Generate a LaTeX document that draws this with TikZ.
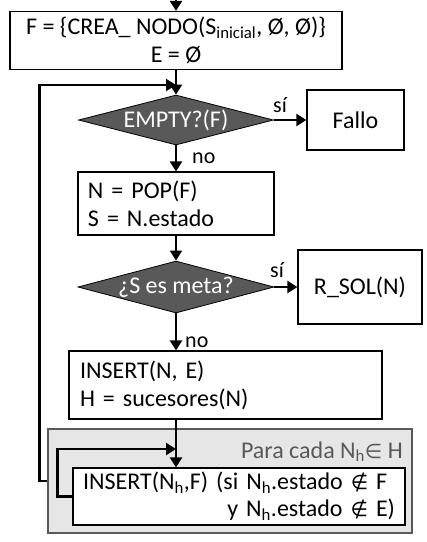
\documentclass[tikz,border=0pt]{standalone}
\usepackage{fontspec}
\setmainfont{Carlito}
\newfontfamily\symf{DejaVu Sans}
\usetikzlibrary{shapes.geometric,arrows.meta}
\definecolor{dgray}{HTML}{595959}
\definecolor{gfill}{HTML}{E6E6E6}
\definecolor{gborder}{HTML}{595959}
\begin{document}
\begin{tikzpicture}[x=1pt,y=-1pt,
  box/.style={draw=black, line width=1.2pt, fill=white, inner sep=0pt, font=\fontsize{24}{28}\selectfont},
  dec/.style={diamond, aspect=3.8, draw=black, line width=0.8pt, fill=dgray, text=white, inner sep=0pt, font=\fontsize{24}{28}\selectfont},
  conn/.style={line width=2.2pt, -{Triangle[length=10pt,width=12pt]}},
  lbl/.style={inner sep=0pt, anchor=base west, font=\fontsize{22}{26}\selectfont}]
\useasboundingbox (0,0) rectangle (427,542);
% nodes
\coordinate (start) at (176,0);
\node[box, minimum width=332pt, minimum height=58pt, align=center, font=\fontsize{24}{28}\selectfont] (init) at (176,40.5)
  {F = \{CREA\_ NODO(S\textsubscript{inicial}, Ø, Ø)\}\\E = Ø};
\node[dec, minimum width=195pt, minimum height=50pt] (d1) at (176,120) {EMPTY?(F)};
\node[box, minimum width=97pt, minimum height=60pt] (fallo) at (355.5,120) {Fallo};
\node[box, minimum width=196pt, minimum height=63pt, text width=176pt, align=left] (pop) at (176,203.5)
  {N = POP(F)\\S = N.estado};
\node[dec, minimum width=196pt, minimum height=52pt] (d2) at (176,287) {¿S es meta?};
\node[box, minimum width=124pt, minimum height=74pt] (rsol) at (360,287) {R\_SOL(N)};
\node[box, minimum width=313pt, minimum height=68pt, text width=291pt, align=left] (ins) at (225.5,385)
  {INSERT(N, E)\\H = sucesores(N)};
\node[draw=gborder, fill=gfill, line width=1.2pt, minimum width=364pt, minimum height=104pt, inner sep=0pt] (loopbox) at (230,481) {};
\node[inner sep=0pt, anchor=base east, text=dgray, font=\fontsize{24}{28}\selectfont] (lbl) at (403,458)
  {Para cada N\textsubscript{h}{\symf\fontsize{20}{24}\selectfont ∈} H};
\node[box, minimum width=332pt, minimum height=57pt, text width=312pt, align=left, font=\fontsize{24}{27}\selectfont] (inner) at (239,496.5)
  {INSERT(N\textsubscript{h},F) (si N\textsubscript{h}.estado {\symf\fontsize{20}{24}\selectfont ∉} F\\\hspace*{\fill}y N\textsubscript{h}.estado {\symf\fontsize{20}{24}\selectfont ∉} E)};
\coordinate (jn1) at (176,85);
\coordinate (jn2) at (176,449);
% labels
\node[lbl] (si1) at (273,112) {sí};
\node[lbl] (no1) at (192,163) {no};
\node[lbl] (si2) at (270,277) {sí};
\node[lbl] (no2) at (185,347) {no};
% connectors
\draw[conn] (start) -- (init.north);
\draw[conn] (init.south) -- (d1.north);
\draw[conn] (d1.east) -- (fallo.west);
\draw[conn] (d1.south) -- (pop.north);
\draw[conn] (pop.south) -- (d2.north);
\draw[conn] (d2.east) -- (rsol.west);
\draw[conn] (d2.south) -- (d2.south |- ins.north);
\draw[conn] (ins.south -| d2.south) -- (inner.north -| d2.south);
\draw[conn] (loopbox.west) -- ++(-8,0) |- (jn1);
\draw[conn] (inner.west) -- ++(-15,0) |- (jn2);
\end{tikzpicture}
\end{document}
